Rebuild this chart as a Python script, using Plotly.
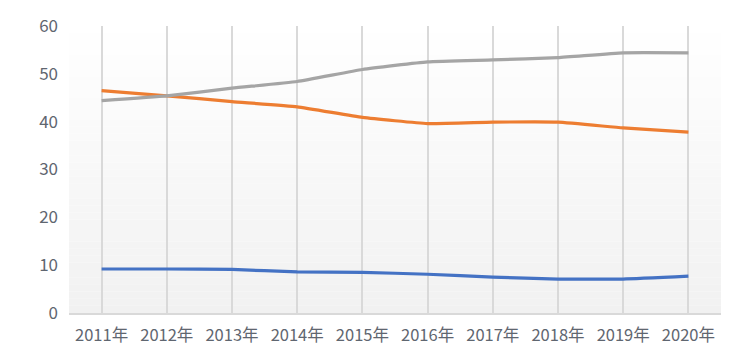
import plotly.graph_objects as go

years = ["2011年", "2012年", "2013年", "2014年", "2015年", "2016年", "2017年", "2018年", "2019年", "2020年"]
series_blue = [9.2, 9.2, 9.1, 8.6, 8.5, 8.1, 7.5, 7.1, 7.1, 7.7]
series_orange = [46.5, 45.4, 44.2, 43.1, 40.9, 39.6, 39.9, 39.9, 38.7, 37.8]
series_gray = [44.4, 45.4, 47.0, 48.4, 50.9, 52.5, 52.9, 53.4, 54.4, 54.4]
y_ticks = [0, 10, 20, 30, 40, 50, 60]

fig = go.Figure()
for name, vals, color in [("系列1", series_blue, "#4472C4"),
                          ("系列2", series_orange, "#ED7D31"),
                          ("系列3", series_gray, "#A5A5A5")]:
    fig.add_trace(go.Scatter(x=years, y=vals, mode="lines", name=name,
                             line=dict(color=color, width=3.2, shape="spline", smoothing=0.4),
                             showlegend=False))

# background gradient (white at top -> light gray at bottom)
n = 40
shapes = []
for i in range(n):
    t = (i + 0.5) / n
    v = int(round(255 - (255 - 241) * t))
    shapes.append(dict(type="rect", xref="paper", yref="paper",
                       x0=0, x1=1, y0=1 - (i + 1) / n, y1=1 - i / n,
                       fillcolor=f"rgb({v},{v},{v})", line=dict(width=0), layer="below"))

fig.update_layout(
    width=747, height=364,
    margin=dict(l=69, r=26, t=24, b=51),
    paper_bgcolor="white", plot_bgcolor="rgba(0,0,0,0)",
    shapes=shapes,
    font=dict(family="Noto Sans CJK JP, Noto Sans, sans-serif", size=17, color="#5f6670"),
    xaxis=dict(type="category", range=[-0.5, 9.5], showgrid=True, gridcolor="#d9d9d9", gridwidth=1.6,
               showline=True, linecolor="#d9d9d9", linewidth=2, ticks="", ticklabelstandoff=6,
               tickfont=dict(size=16.5)),
    yaxis=dict(range=[0, 60], tickvals=y_ticks, showgrid=False, zeroline=False, showline=False,
               ticks="", ticklabelstandoff=10, tickfont=dict(size=17)),
)
fig.write_html("out.html")
